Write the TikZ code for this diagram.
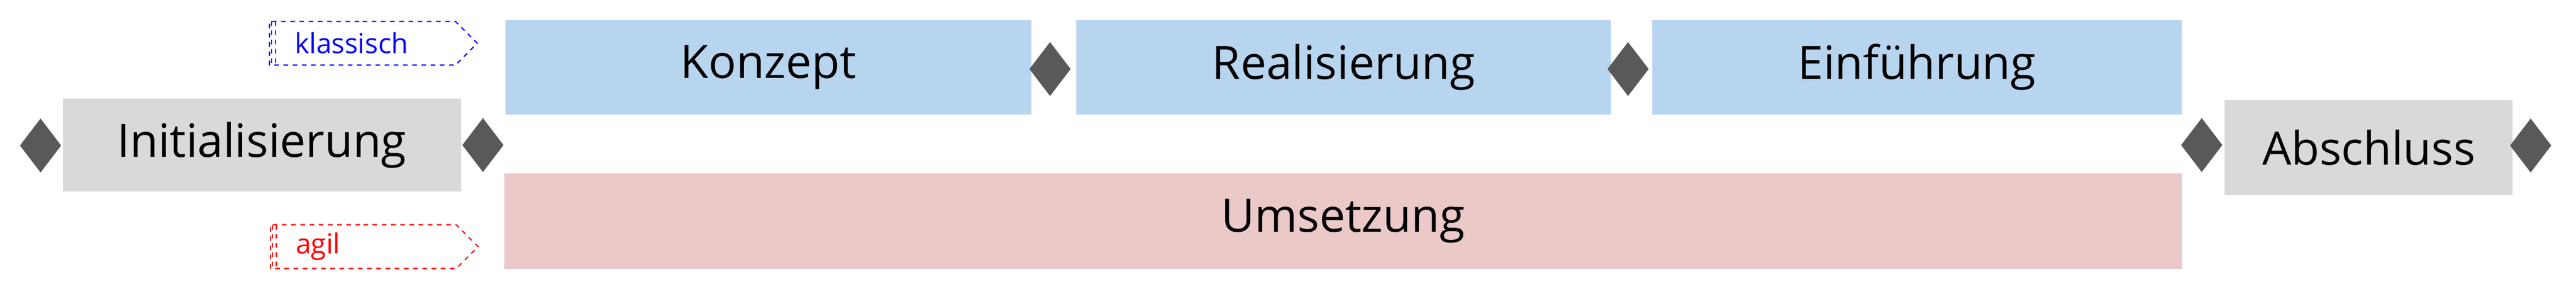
\documentclass[tikz,border=0pt]{standalone}
\usepackage{fontspec}
\setmainfont{Open Sans}
\usetikzlibrary{shapes.geometric, shapes.symbols, positioning}
\definecolor{phaseblue}{HTML}{B8D5F0}
\definecolor{phasered}{HTML}{EAC9C8}
\definecolor{phasegrey}{HTML}{D9D9D9}
\definecolor{stonegrey}{HTML}{595959}

\begin{document}
\begin{tikzpicture}
\tikzstyle{phase} = [rectangle, minimum height=2.17cm, inner sep=0pt, text centered, font=\fontsize{30}{36}\selectfont]
\tikzstyle{milestone} = [diamond, minimum width=0.95cm, minimum height=1.24cm, inner sep=0pt, fill=stonegrey]
\tikzstyle{tag} = [signal, signal to=east, minimum width=4.76cm, minimum height=1cm, text width=3.1cm, align=left, inner xsep=0.55cm, dashed, line width=0.8pt, font=\fontsize{18}{22}\selectfont]

\useasboundingbox (0,0) rectangle (59.05,6.61);

\node (init) [phase, fill=phasegrey, minimum width=9.13cm, minimum height=2.13cm] at (6.00,3.29) {Initialisierung};
\node (konzept) [phase, fill=phaseblue, minimum width=12.06cm] at (17.61,5.07) {Konzept};
\node (real) [phase, fill=phaseblue, minimum width=12.25cm] at (30.80,5.07) {Realisierung};
\node (einf) [phase, fill=phaseblue, minimum width=12.14cm] at (43.94,5.07) {Einführung};
\node (umsetz) [phase, fill=phasered, minimum width=38.45cm, minimum height=2.18cm] at (30.785,1.55) {Umsetzung};
\node (absch) [phase, fill=phasegrey, minimum width=6.60cm] at (54.30,3.235) {Abschluss};

\node (m0) [milestone] at (0.93,3.28) {};
\node (m1) [milestone] at (11.07,3.29) {};
\node (m2) [milestone] at (24.07,5.03) {};
\node (m3) [milestone] at (37.32,5.03) {};
\node (m4) [milestone] at (50.47,3.29) {};
\node (m5) [milestone] at (58.01,3.28) {};

\node (klass) [tag, draw=blue, text=blue] at (8.31,5.62) {klassisch};
\node (agil) [tag, draw=red, text=red] at (8.33,0.965) {agil};

\foreach \s in {0.06,0.15} {
  \draw[blue, dashed, line width=0.8pt] ([xshift=\s cm, yshift=0.5cm]klass.west) -- ([xshift=\s cm, yshift=-0.5cm]klass.west);
  \draw[red, dashed, line width=0.8pt] ([xshift=\s cm, yshift=0.5cm]agil.west) -- ([xshift=\s cm, yshift=-0.5cm]agil.west);
}

\end{tikzpicture}
\end{document}
